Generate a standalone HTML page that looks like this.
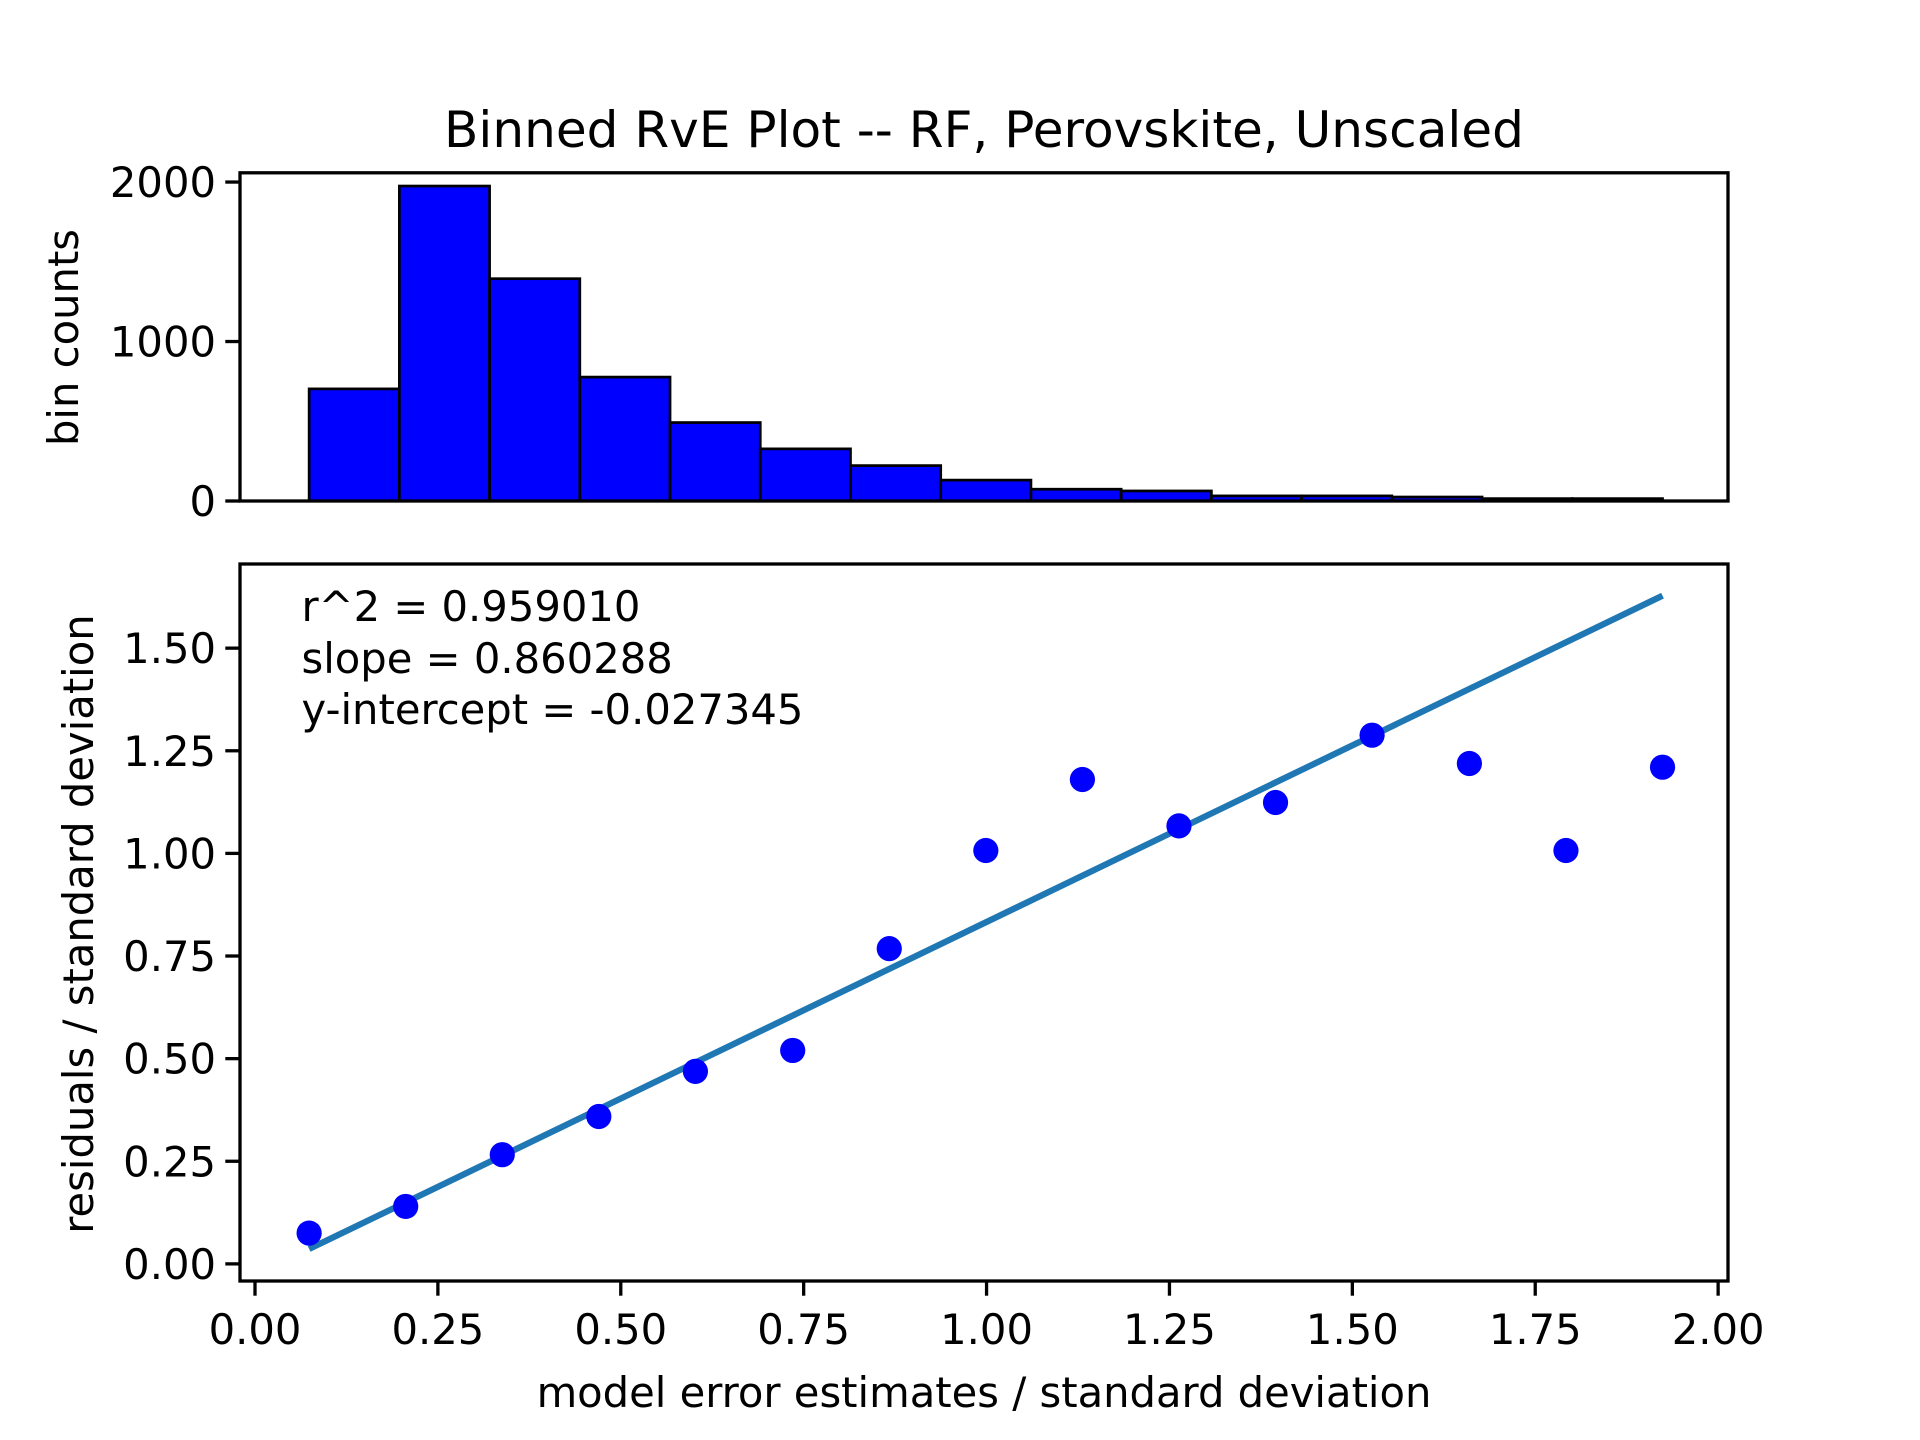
<!DOCTYPE html>
<html><head><meta charset="utf-8"><style>
html,body{margin:0;padding:0;background:#fff}
svg{display:block}
text{font-family:"DejaVu Sans","Liberation Sans",sans-serif;fill:#000}
</style></head><body>
<svg id="fig" width="1920" height="1440" viewBox="0 0 640 480" xmlns="http://www.w3.org/2000/svg">
<rect width="640" height="480" fill="#fff"/>
<text x="328" y="49" font-size="16.7" text-anchor="middle">Binned RvE Plot -- RF, Perovskite, Unscaled</text>
<g id="topPanel"></g>
<g id="botPanel"></g>
<text transform="translate(26,112.5) rotate(-90)" font-size="13.9" text-anchor="middle">bin counts</text>
<text transform="translate(31,308) rotate(-90)" font-size="13.9" text-anchor="middle">residuals / standard deviation</text>
<text x="328" y="469" font-size="13.9" text-anchor="middle">model error estimates / standard deviation</text>
<text x="100.5" y="207" font-size="13.9">r^2 = 0.959010</text>
<text x="100.5" y="224.3" font-size="13.9">slope = 0.860288</text>
<text x="100.5" y="241.3" font-size="13.9">y-intercept = -0.027345</text>
</svg>
<script>
const binCounts=[703,1975,1394,777,492,327,222,131,74,63,32,32,25,15,15];
const binStart=0.074, binEnd=1.924;
const pointX=[0.074,0.206,0.338,0.470,0.602,0.735,0.867,0.999,1.131,1.263,1.395,1.527,1.660,1.792,1.924];
const pointY=[0.075,0.140,0.266,0.359,0.469,0.520,0.768,1.007,1.180,1.067,1.124,1.288,1.219,1.007,1.210];
const slope=0.860288, intercept=-0.027345;
const xTicks=[0,0.25,0.5,0.75,1.0,1.25,1.5,1.75,2.0];
const xTickLabels=["0.00","0.25","0.50","0.75","1.00","1.25","1.50","1.75","2.00"];
const yTicksTop=[0,1000,2000];
const yTicksBot=[0,0.25,0.5,0.75,1.0,1.25,1.5];
const yTickLabelsBot=["0.00","0.25","0.50","0.75","1.00","1.25","1.50"];
{
const NS="http://www.w3.org/2000/svg";
const L=80,R=576;
const xMin=-0.0205,xMax=2.0135;
const X=v=>L+(v-xMin)/(xMax-xMin)*(R-L);
const T0=57.6,T1=167, yTopMax=2058;
const YT=v=>T1-v/yTopMax*(T1-T0);
const B0=188,B1=427, yBMin=-0.0417,yBMax=1.705;
const YB=v=>B1-(v-yBMin)/(yBMax-yBMin)*(B1-B0);
function el(parent,tag,attrs){const e=document.createElementNS(NS,tag);for(const k in attrs)e.setAttribute(k,attrs[k]);parent.appendChild(e);return e;}
const topG=document.getElementById('topPanel'), botG=document.getElementById('botPanel');
const w=(binEnd-binStart)/binCounts.length;
binCounts.forEach((c,i)=>{
  const x0=X(binStart+i*w),x1=X(binStart+(i+1)*w);
  const r=el(topG,'rect',{x:x0,y:YT(c),width:x1-x0,height:YT(0)-YT(c),fill:'#0000ff',stroke:'#000','stroke-width':0.9});
  
  
});
yTicksTop.forEach(t=>{
  el(topG,'line',{x1:L-4.9,x2:L,y1:YT(t),y2:YT(t),stroke:'#000','stroke-width':1.1});
  const tx=el(topG,'text',{x:L-8,y:YT(t)+5,'font-size':13.9,'text-anchor':'end'});
  tx.textContent=String(t);
  
  
});
el(topG,'rect',{x:L,y:T0,width:R-L,height:T1-T0,fill:'none',stroke:'#000','stroke-width':1.1});

const xa=pointX[0], xb=pointX[pointX.length-1];
const line=el(botG,'line',{x1:X(xa),y1:YB(slope*xa+intercept),x2:X(xb),y2:YB(slope*xb+intercept),stroke:'#1f77b4','stroke-width':2.08});


pointY.forEach((v,i)=>{
  const c=el(botG,'circle',{cx:X(pointX[i]),cy:YB(v),r:4.2,fill:'#0000ff'});
  
  
});
yTicksBot.forEach((t,i)=>{
  el(botG,'line',{x1:L-4.9,x2:L,y1:YB(t),y2:YB(t),stroke:'#000','stroke-width':1.1});
  const tx=el(botG,'text',{x:L-8,y:YB(t)+5,'font-size':13.9,'text-anchor':'end'});
  tx.textContent=yTickLabelsBot[i];
  
  
});
xTicks.forEach((t,i)=>{
  el(botG,'line',{x1:X(t),x2:X(t),y1:B1,y2:B1+4.9,stroke:'#000','stroke-width':1.1});
  const tx=el(botG,'text',{x:X(t),y:B1+21,'font-size':13.9,'text-anchor':'middle'});
  tx.textContent=xTickLabels[i];
  
  
});
el(botG,'rect',{x:L,y:B0,width:R-L,height:B1-B0,fill:'none',stroke:'#000','stroke-width':1.1});
}
</script>
</body></html>
